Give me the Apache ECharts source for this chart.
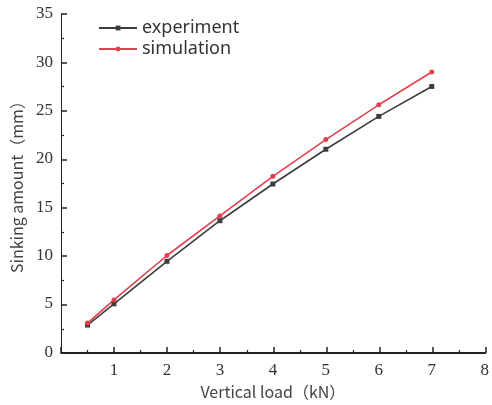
<!DOCTYPE html>
<html>
<head>
<meta charset="utf-8">
<script src="https://cdn.jsdelivr.net/npm/echarts@6/dist/echarts.min.js"></script>
<style>
  html, body { margin: 0; padding: 0; background: #fff; }
  #chart { width: 492px; height: 405px; }
</style>
</head>
<body>
<div id="chart"></div>
<script>
const loads = [0.5, 1, 2, 3, 4, 5, 6, 7];
const experiment = [2.8, 5.0, 9.4, 13.6, 17.4, 21.0, 24.4, 27.5];
const simulation = [3.0, 5.4, 10.0, 14.1, 18.2, 22.0, 25.6, 29.0];

const chart = echarts.init(document.getElementById('chart'), null, { renderer: 'canvas' });

const gridBox = { left: 61, right: 3, top: 14, bottom: 52 };

chart.setOption({
  animation: false,
  grid: [Object.assign({}, gridBox), Object.assign({}, gridBox)],
  legend: {
    left: 93,
    top: 14,
    orient: 'vertical',
    itemGap: 3,
    itemWidth: 38,
    itemHeight: 6,
    textStyle: { fontFamily: 'Noto Sans', fontSize: 18, color: '#333' },
    data: ['experiment', 'simulation']
  },
  xAxis: [
    {
      gridIndex: 0,
      type: 'value', min: 0, max: 8, interval: 1,
      name: 'Vertical load（kN）',
      nameLocation: 'middle',
      nameGap: 30,
      nameTextStyle: { fontFamily: 'Noto Sans CJK SC', fontSize: 16, color: '#444' },
      axisLine: { show: true, lineStyle: { color: '#222' } },
      axisTick: { show: false },
      axisLabel: { margin: 10, fontFamily: 'Liberation Serif', fontSize: 17, color: '#333',
        formatter: v => (v === 0 ? '' : v) },
      splitLine: { show: false }
    },
    {
      // tick-only overlay axis
      gridIndex: 1,
      type: 'value', min: 0, max: 8, interval: 1,
      axisLine: { show: true, lineStyle: { color: '#222' } },
      axisTick: { show: true, inside: true, length: 6, lineStyle: { color: '#222', width: 1.5 } },
      minorTick: { show: true, length: 3, splitNumber: 2, lineStyle: { color: '#222', width: 1.2 } },
      axisLabel: { show: true, color: 'rgba(0,0,0,0)' },
      splitLine: { show: false }
    }
  ],
  yAxis: [
    {
      gridIndex: 0,
      type: 'value', min: 0, max: 35, interval: 5,
      name: 'Sinking amount（mm）',
      nameLocation: 'middle',
      nameGap: 36,
      nameTextStyle: { fontFamily: 'Noto Sans CJK SC', fontSize: 16, color: '#444' },
      axisLine: { show: true, lineStyle: { color: '#222' } },
      axisTick: { show: false },
      axisLabel: { margin: 8, fontFamily: 'Liberation Serif', fontSize: 17, color: '#333' },
      splitLine: { show: false }
    },
    {
      gridIndex: 1,
      type: 'value', min: 0, max: 35, interval: 5,
      axisLine: { show: true, lineStyle: { color: '#222' } },
      axisTick: { show: true, inside: true, length: 6, lineStyle: { color: '#222', width: 1.5 } },
      minorTick: { show: true, length: 3, splitNumber: 2, lineStyle: { color: '#222', width: 1.2 } },
      axisLabel: { show: true, color: 'rgba(0,0,0,0)' },
      splitLine: { show: false }
    }
  ],
  series: [
    {
      name: 'experiment',
      type: 'line',
      xAxisIndex: 0,
      yAxisIndex: 0,
      data: loads.map((x, i) => [x, experiment[i]]),
      symbol: 'rect',
      symbolSize: 5,
      lineStyle: { color: '#3d3d3d', width: 1.6 },
      itemStyle: { color: '#3d3d3d' }
    },
    {
      name: 'simulation',
      type: 'line',
      xAxisIndex: 0,
      yAxisIndex: 0,
      data: loads.map((x, i) => [x, simulation[i]]),
      symbol: 'circle',
      symbolSize: 5,
      lineStyle: { color: '#e2404c', width: 1.6 },
      itemStyle: { color: '#e2404c' }
    }
  ]
});
</script>
</body>
</html>
